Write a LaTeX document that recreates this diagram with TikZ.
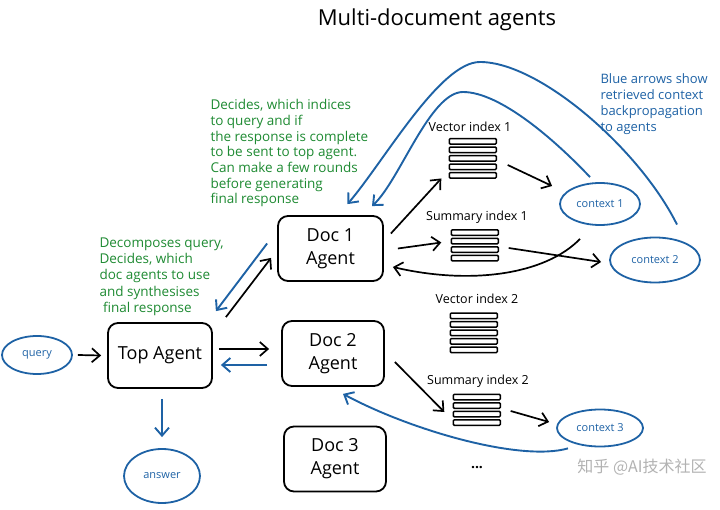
\documentclass[tikz,border=0pt]{standalone}
\usepackage{fontspec}
\setmainfont{Open Sans}
\newfontfamily\cjk{Noto Sans CJK SC}
\usepackage{xcolor}
\usetikzlibrary{arrows.meta,positioning,calc,shapes.geometric}
\definecolor{notegreen}{RGB}{30,138,50}
\definecolor{backblue}{RGB}{30,98,165}
\tikzset{
	agent/.style={draw,line width=1.8pt,rounded corners=10pt,minimum width=104pt,minimum height=65pt,align=center,font=\fontsize{18}{23}\selectfont},
	ctx/.style={draw=backblue,line width=1.8pt,ellipse,inner sep=0pt,text=backblue,font=\fontsize{11}{13}\selectfont},
	stack/.style={minimum width=47pt,inner sep=0pt},
	bar/.style={line width=1.5pt,rounded corners=1pt},
	idxlabel/.style={font=\fontsize{12.5}{15}\selectfont},
	fwd/.style={line width=1.7pt,-{Straight Barb[length=8pt,width=14pt]}},
	back/.style={line width=1.9pt,backblue,-{Straight Barb[length=8pt,width=14pt]}}
}
\begin{document}
\begin{tikzpicture}[x=1pt,y=-1pt]
		\useasboundingbox (0,0) rectangle (720,510);
		% title
		\node[font=\fontsize{22}{26}\selectfont] (title) at (437,20) {Multi-document agents};
		% agents
		\node[ctx,minimum width=70pt,minimum height=38pt] (query) at (37,355) {query};
		\node[agent] (top) at (160,355.5) {Top Agent};
		\node[ctx,minimum width=76pt,minimum height=54pt] (answer) at (162,476) {answer};
		\node[agent,minimum width=105pt] (doc1) at (330.5,248.5) {Doc 1\\Agent};
		\node[agent,minimum width=102pt] (doc2) at (333,353.5) {Doc 2\\Agent};
		\node[agent,minimum width=102pt] (doc3) at (335,459) {Doc 3\\Agent};
		\node[font=\bfseries\fontsize{14}{16}\selectfont] (more) at (477,468) {...};
		% indices
		\node[idxlabel] (vl1) at (470,127) {Vector index 1};
		\node[stack,minimum height=39.5pt] (vi1) at (473,158.5) {};
		\node[idxlabel] (sl1) at (477,217) {Summary index 1};
		\node[stack,minimum height=31pt] (si1) at (475,245.5) {};
		\node[idxlabel] (vl2) at (477,299) {Vector index 2};
		\node[stack,minimum height=39.5pt] (vi2) at (474,333) {};
		\node[idxlabel] (sl2) at (478,381) {Summary index 2};
		\node[stack,minimum height=31pt] (si2) at (477,410) {};
		\foreach \st/\n in {vi1/4,si1/3,vi2/4,si2/3}
			\foreach \k in {0,...,\n}
				\draw[bar] ([yshift=-\k*8.5pt]\st.north west) rectangle ++(47,5.5);
		% contexts
		\node[ctx,minimum width=80pt,minimum height=42pt] (ctx1) at (600,204) {context 1};
		\node[ctx,minimum width=90pt,minimum height=45pt] (ctx2) at (655,260) {context 2};
		\node[ctx,minimum width=86pt,minimum height=37pt] (ctx3) at (600,428) {context 3};
		% notes
		\node[anchor=north west,align=left,text=notegreen,font=\fontsize{13.5}{15.7}\selectfont] (note1) at (207,96) {Decides, which indices\\to query and if\\the response is complete\\to be sent to top agent.\\Can make a few rounds\\before generating\\final response};
		\node[anchor=north west,align=left,text=notegreen,font=\fontsize{13.5}{16.3}\selectfont] (note2) at (96,234) {Decomposes query,\\Decides, which\\doc agents to use\\and synthesises\\\ final response};
		\node[anchor=north west,align=left,text=backblue,font=\fontsize{13}{16}\selectfont] (note3) at (597,70) {Blue arrows show\\retrieved context\\backpropagation\\to agents};
		\node[text=black!30,font=\cjk\fontsize{16}{18}\selectfont] (mark) at (642,467) {知乎 @AI技术社区};
		% black arrows
		\draw[fwd] ([xshift=5pt]query.east) -- ([xshift=-6pt]top.west);
		\draw[fwd] ([xshift=13pt,yshift=5pt]top.north east) -- ([xshift=-6pt,yshift=24pt]doc1.south west);
		\draw[fwd] ([xshift=6pt,yshift=6.5pt]top.east) -- ([xshift=-12pt,yshift=4.5pt]doc2.west);
		\draw[fwd] ([xshift=7pt,yshift=15pt]doc1.east) -- ([xshift=-8pt]vi1.south west);
		\draw[fwd] ([xshift=14pt]doc1.east) -- ([xshift=-10pt,yshift=3pt]si1.west);
		\draw[fwd] ([xshift=11pt,yshift=-6.5pt]vi1.east) -- ([xshift=-7pt,yshift=18pt]ctx1.west);
		\draw[fwd] ([xshift=10pt,yshift=-2.5pt]si1.east) -- ([xshift=-8pt,yshift=-2pt]ctx2.west);
		\draw[fwd] ([xshift=-20pt,yshift=-13pt]ctx1.south) .. controls (545,275) and (470,285) .. ([xshift=9pt,yshift=-18.5pt]doc1.east);
		\draw[fwd] ([xshift=10pt,yshift=-8.5pt]doc2.east) -- ([xshift=-9pt,yshift=-2pt]si2.west);
		\draw[fwd] ([xshift=10pt,yshift=-1pt]si2.east) -- ([xshift=-7pt,yshift=6pt]ctx3.west);
		% blue arrows
		\draw[back] (top.south) ++(2,10) -- ([xshift=0pt,yshift=11pt]answer.north);
		\draw[back] ([xshift=-10pt,yshift=5pt]doc1.west) -- ([xshift=3pt,yshift=11pt]top.north east);
		\draw[back] ([xshift=-14pt,yshift=-11.5pt]doc2.west) -- ([xshift=8pt,yshift=-9.5pt]top.east);
		\draw[back] ([xshift=-32pt,yshift=-1pt]ctx3.south) .. controls (520,462) and (410,430) .. ([xshift=10pt,yshift=-7pt]doc2.south);
		\draw[back] ([xshift=22pt,yshift=12pt]ctx2.north) .. controls (640,150) and (540,62) .. (480,62)
			.. controls (440,62) and (385,160) .. ([xshift=17pt,yshift=11pt]doc1.north);
		\draw[back] ([xshift=-10pt,yshift=5pt]ctx1.north) .. controls (555,140) and (500,92) .. (463,92)
			.. controls (430,92) and (400,180) .. ([xshift=41.5pt,yshift=9pt]doc1.north);
	\end{tikzpicture}
\end{document}
